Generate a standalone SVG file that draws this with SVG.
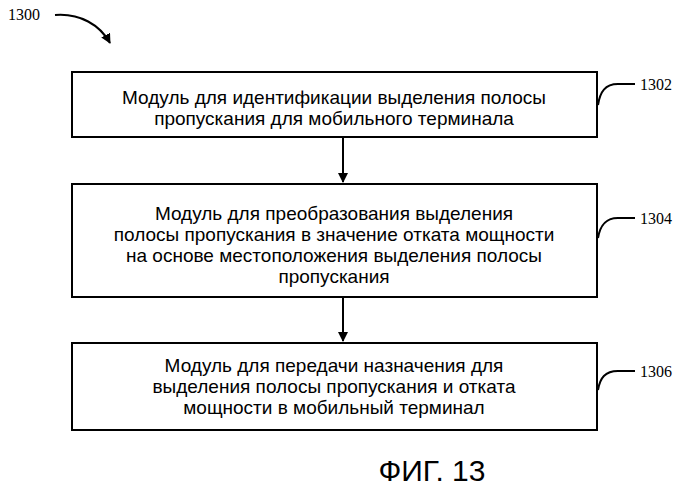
<svg xmlns="http://www.w3.org/2000/svg" width="700" height="492" viewBox="0 0 700 492">
<defs>
<style>
.box{fill:#fff;stroke:#000;stroke-width:2}
.t{font-family:"Liberation Sans",Arial,sans-serif;font-size:19px;text-anchor:middle;fill:#000}
.n{font-family:"Liberation Serif","Times New Roman",serif;font-size:16px;fill:#000}
.c{fill:none;stroke:#000;stroke-width:2}
</style>
<marker id="ah" viewBox="0 0 10 10" refX="9" refY="5" markerWidth="5" markerHeight="5" orient="auto"><path d="M0,0 L10,5 L0,10 z" fill="#000"/></marker>
</defs>
<rect width="700" height="492" fill="#fff"/>
<g id="connectors">
<path class="c" d="M343,137 V182" marker-end="url(#ah)"/>
<path class="c" d="M343,297 V341" marker-end="url(#ah)"/>
<path class="c" d="M55,15 C80,13 100,25 110,43" marker-end="url(#ah)"/>
<path class="c" d="M598,105 C600,92 605,84 618,84 H635"/>
<path class="c" d="M598,238 C600,226 605,218 618,218 H635"/>
<path class="c" d="M598,390 C600,378 605,371 618,371 H635"/>
</g>
<text class="n" x="8" y="20">1300</text>
<text class="n" x="640" y="90">1302</text>
<text class="n" x="640" y="224">1304</text>
<text class="n" x="640" y="377">1306</text>
<g id="n1302"><rect class="box" x="72" y="72" width="525" height="65"/>
<text class="t" x="334" y="104">Модуль для идентификации выделения полосы</text>
<text class="t" x="334" y="125">пропускания для мобильного терминала</text></g>
<g id="n1304"><rect class="box" x="72" y="184" width="525" height="113"/>
<text class="t" x="334" y="220">Модуль для преобразования выделения</text>
<text class="t" x="334" y="241">полосы пропускания в значение отката мощности</text>
<text class="t" x="334" y="262">на основе местоположения выделения полосы</text>
<text class="t" x="334" y="283">пропускания</text></g>
<g id="n1306"><rect class="box" x="72" y="343" width="525" height="87"/>
<text class="t" x="334" y="372">Модуль для передачи назначения для</text>
<text class="t" x="334" y="393">выделения полосы пропускания и отката</text>
<text class="t" x="334" y="414">мощности в мобильный терминал</text></g>
<text x="432" y="481" style="font-family:'Liberation Sans',Arial,sans-serif;font-size:30px;text-anchor:middle">ФИГ. 13</text>
</svg>
